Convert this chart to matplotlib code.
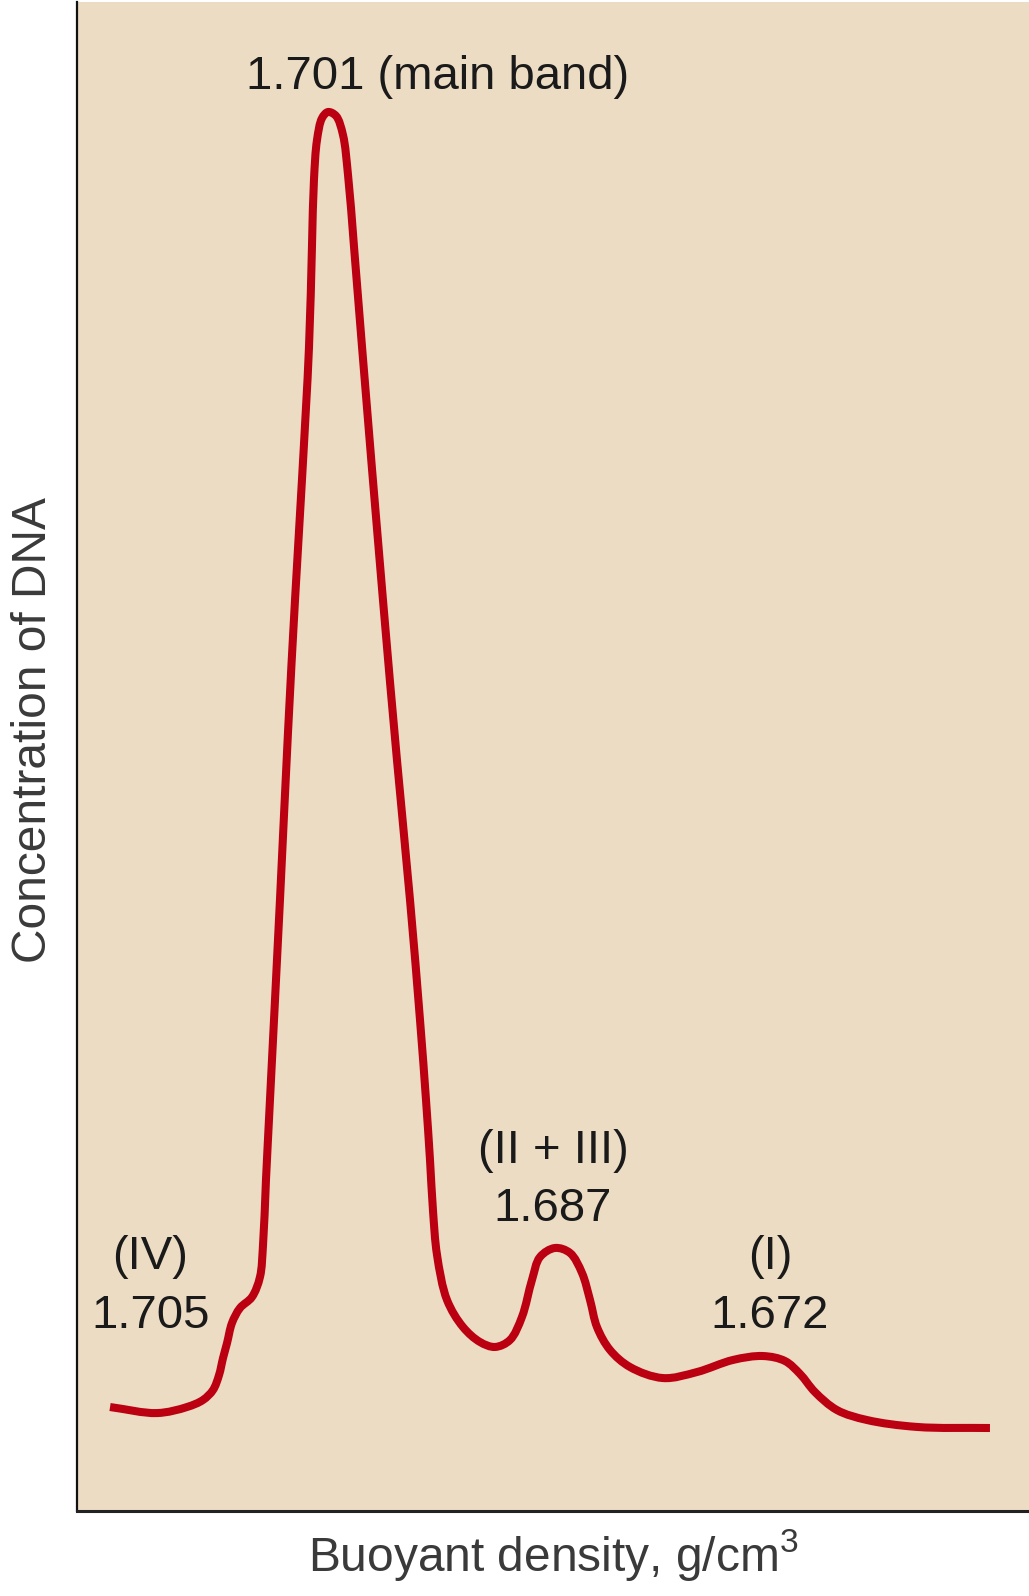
import matplotlib
matplotlib.use("Agg")
import matplotlib.pyplot as plt
from matplotlib.path import Path
from matplotlib.patches import PathPatch

plt.rcParams['font.family'] = ['Liberation Sans', 'DejaVu Sans']
plt.rcParams['mathtext.fontset'] = 'custom'
plt.rcParams['mathtext.rm'] = 'Liberation Sans'

# Relative position along the gradient (a.u., 0-100) and DNA concentration (a.u.)
position = [3.47, 8.40, 11.55, 13.24, 14.29, 14.92, 15.34, 15.76, 16.28, 17.12,
            18.38, 19.22, 19.54, 19.85, 20.27, 21.32, 22.16, 22.90, 23.63, 24.37,
            24.68, 24.89, 25.21, 25.74, 26.37, 27.21, 27.94, 28.47, 29.10, 29.94,
            32.14, 33.61, 34.98, 36.03, 36.66, 37.08, 37.39, 37.82, 38.87, 40.55,
            42.33, 43.91, 45.48, 46.74, 47.79, 48.63, 50.21, 51.79, 53.05, 53.89,
            54.62, 55.99, 58.09, 61.55, 65.13, 68.91, 72.06, 74.37, 75.95, 77.52,
            79.83, 82.98, 88.24, 95.90]
concentration = [6.89, 6.49, 6.89, 7.36, 8.02, 9.01, 10.14, 11.13, 12.46, 13.45,
                 14.18, 15.51, 17.63, 21.94, 27.24, 40.49, 51.56, 60.37, 68.32, 77.14,
                 83.76, 88.20, 90.85, 92.31, 92.71, 92.45, 91.19, 88.53, 83.76, 77.14,
                 60.37, 49.77, 40.49, 32.54, 27.24, 23.26, 19.95, 16.96, 13.98, 12.19,
                 11.20, 10.87, 11.33, 12.86, 15.31, 16.83, 17.43, 17.10, 15.77, 13.98,
                 12.19, 10.67, 9.54, 8.81, 9.21, 10.01, 10.27, 9.94, 9.08, 7.88,
                 6.69, 6.03, 5.57, 5.50]

band_names = ["1.701 (main band)", "(II + III)", "1.687", "(IV)", "1.705", "(I)", "1.672"]
x_label = r"Buoyant density, g/cm$^{3}$"
y_label = "Concentration of DNA"

fig = plt.figure(figsize=(10.29, 15.96), dpi=100)
fig.patch.set_facecolor('white')
ax = fig.add_axes([77/1029, 1 - 1511/1596, 952/1029, 1509/1596])
ax.set_facecolor('#ecdcc4')

# smooth curve through the traced points: centripetal Catmull-Rom drawn as Bezier segments
SX, SY = 9.52, 15.09  # only used to measure chord lengths isotropically


def dist(a, b):
    return (((a[0] - b[0]) * SX) ** 2 + ((a[1] - b[1]) * SY) ** 2) ** 0.25


pts = list(zip(position, concentration))
n = len(pts)
ext = ([(2 * pts[0][0] - pts[1][0], 2 * pts[0][1] - pts[1][1])] + pts +
       [(2 * pts[-1][0] - pts[-2][0], 2 * pts[-1][1] - pts[-2][1])])
verts = [pts[0]]
codes = [Path.MOVETO]
for i in range(1, n):
    p0, p1, p2, p3 = ext[i - 1], ext[i], ext[i + 1], ext[i + 2]
    d0, d1, d2 = dist(p0, p1), dist(p1, p2), dist(p2, p3)
    m1 = [d1 * ((p1[k] - p0[k]) / d0 - (p2[k] - p0[k]) / (d0 + d1)) + (p2[k] - p1[k])
          for k in range(2)]
    m2 = [d1 * ((p3[k] - p2[k]) / d2 - (p3[k] - p1[k]) / (d1 + d2)) + (p2[k] - p1[k])
          for k in range(2)]
    c1 = (p1[0] + m1[0] / 3.0, p1[1] + m1[1] / 3.0)
    c2 = (p2[0] - m2[0] / 3.0, p2[1] - m2[1] / 3.0)
    verts += [c1, c2, p2]
    codes += [Path.CURVE4, Path.CURVE4, Path.CURVE4]
ax.add_patch(PathPatch(Path(verts, codes), fill=False, edgecolor='#bb0012',
                       lw=5.8, joinstyle='round', capstyle='butt'))

ax.set_xlim(0, 100)
ax.set_ylim(0, 100)
ax.set_xticks([])
ax.set_yticks([])
for s in ['top', 'right']:
    ax.spines[s].set_visible(False)
ax.spines['left'].set_linewidth(1.6)
ax.spines['left'].set_color('#111111')
ax.spines['bottom'].set_linewidth(2.2)
ax.spines['bottom'].set_color('#222222')

fs = 34
label_pos = [(0.379, 0.950), (0.500, 0.2386), (0.500, 0.2001), (0.0767, 0.1683),
             (0.0777, 0.1292), (0.728, 0.1683), (0.728, 0.1292)]
for name, (tx, ty) in zip(band_names, label_pos):
    ax.text(tx, ty, name, transform=ax.transAxes, ha='center', va='center',
            fontsize=fs, color='#1a1a1a')

fig.text(34/1029, 1 - 730/1596, y_label, rotation=90, ha='center', va='center',
         fontsize=34.5, color='#3a3a3a')
fig.text(553/1029, 1 - 1555/1596, x_label, ha='center', va='center',
         fontsize=34.5, color='#3a3a3a')

fig.savefig('out.png', dpi=100, facecolor='white')
